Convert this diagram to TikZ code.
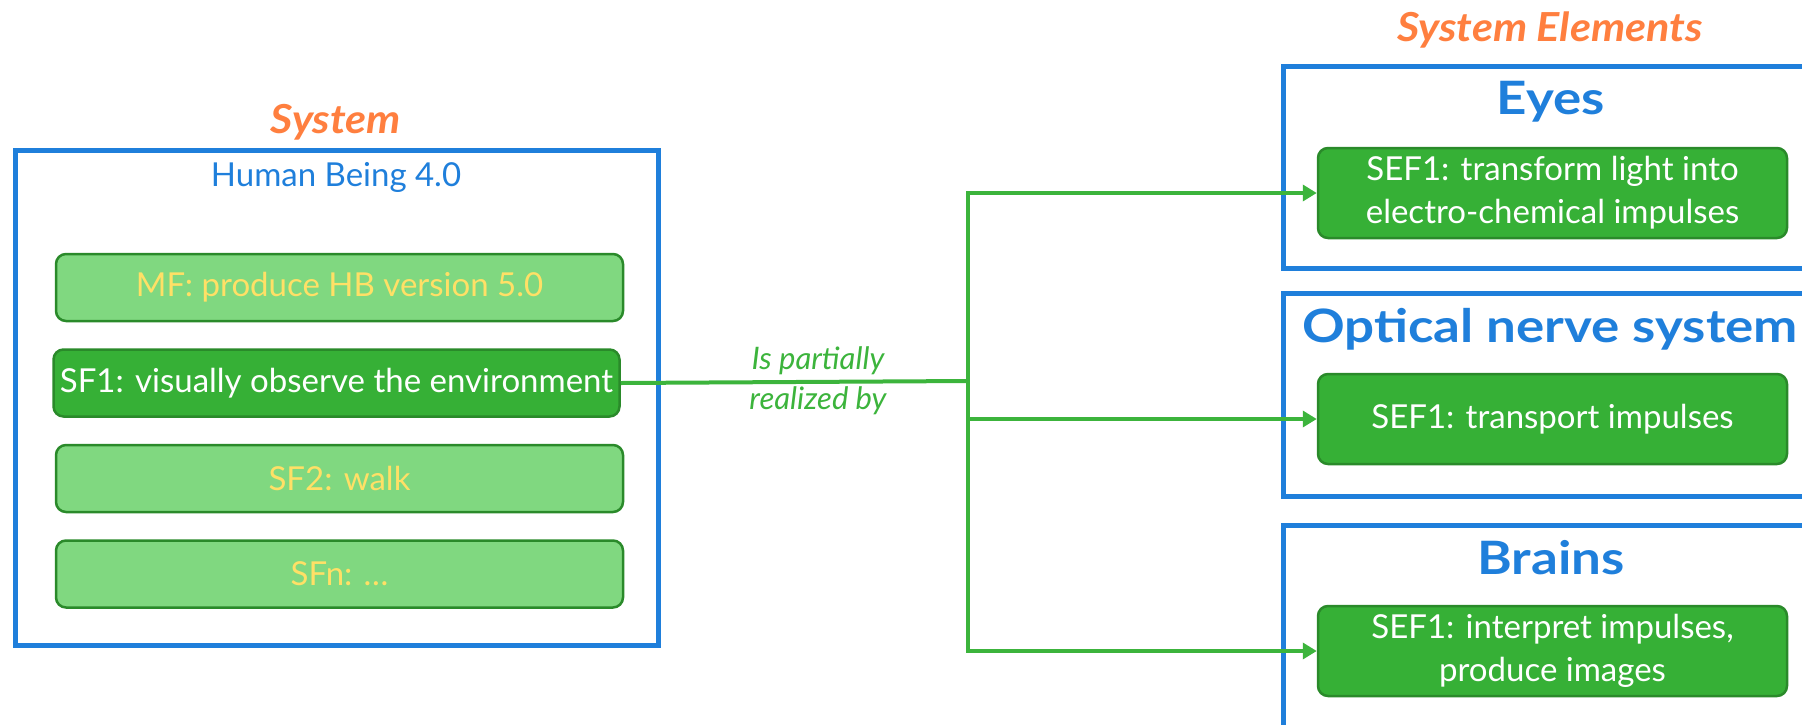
\documentclass[tikz,border=0pt]{standalone}
\usepackage{fontspec}
\setmainfont{Lato}
\newfontfamily\widelato[FakeStretch=1.15]{Lato}
\newfontfamily\headlato[FakeStretch=1.08]{Lato}
\usetikzlibrary{positioning,arrows.meta}

\definecolor{sysblue}{HTML}{1F7FDB}
\definecolor{sysorange}{HTML}{FF7F3F}
\definecolor{linkgreen}{HTML}{3CB43C}
\definecolor{darkfill}{HTML}{36B036}
\definecolor{darkedge}{HTML}{2A8A2A}
\definecolor{lightfill}{HTML}{80D880}
\definecolor{funcyellow}{HTML}{FFE066}

\tikzset{
  blueframe/.style={rectangle, draw=sysblue, line width=5pt, inner sep=0pt},
  headline/.style={anchor=base, text=sysorange, font=\fontsize{40}{48}\headlato\bfseries\itshape},
  elemname/.style={anchor=base, text=sysblue, font=\fontsize{46}{54}\widelato\bfseries},
  func/.style={rectangle, rounded corners=10pt, draw=darkedge, line width=2.5pt, align=center,
    font=\fontsize{33}{43}\selectfont},
  mainfunc/.style={func, fill=lightfill, text=funcyellow, minimum width=567pt, minimum height=67pt},
  subfunc/.style={func, fill=darkfill, text=white},
  elemfunc/.style={subfunc, minimum width=469pt, minimum height=90pt},
  link/.style={draw=linkgreen, line width=4pt},
}

\begin{document}
\begin{tikzpicture}[x=1pt, y=-1pt]
    \useasboundingbox (0,0) rectangle (1802,724);
    \clip (0,0) rectangle (1802,724);

        % Frames
    \node (system) [blueframe, minimum width=643pt, minimum height=495pt] at (336.5,397.5) {};
    \node (eyes) [blueframe, minimum width=547pt, minimum height=202pt] at (1556.5,167) {};
    \node (optic) [blueframe, minimum width=547pt, minimum height=203pt] at (1556.5,394.5) {};
    \node (brains) [blueframe, minimum width=547pt, minimum height=235pt] at (1556.5,642.5) {};

        % Titles
    \node (systitle) [headline] at (336,133) {System};
    \node (elemtitle) [headline] at (1550,41) {System Elements};
    \node (hbname) [anchor=base, text=sysblue, font=\fontsize{33}{40}\selectfont] at (336,186) {Human Being 4.0};
    \node (eyesname) [elemname] at (1551,114) {Eyes};
    \node (opticname) [elemname] at (1550,342) {Optical nerve system};
    \node (brainsname) [elemname] at (1551,574) {Brains};

        % Functions
    \node (mf) [mainfunc] at (339.5,287.5) {MF: produce HB version 5.0};
    \node (sf1) [subfunc, minimum width=566pt, minimum height=67pt, below=26pt of mf, xshift=-3pt] {SF1: visually observe the environment};
    \node (sf2) [mainfunc, below=26pt of sf1, xshift=3pt] {SF2: walk};
    \node (sfn) [mainfunc, below=26pt of sf2] {SFn: \dots};

    \node (eyesf) [elemfunc] at (1552.5,193) {SEF1: transform light into\\electro-chemical impulses};
    \node (opticf) [elemfunc] at (1552.5,419) {SEF1: transport impulses};
    \node (brainsf) [elemfunc] at (1552.5,651) {SEF1: interpret impulses,\\produce images};

        % Arrows
    \coordinate (split) at (968,381);
    \draw [link] (sf1.east) -- (split);
    \draw [link, -{Triangle[length=14pt, width=16pt]}] (split) |- (eyesf.west);
    \draw [link, -{Triangle[length=14pt, width=16pt]}] (split) |- (opticf.west);
    \draw [link, -{Triangle[length=14pt, width=16pt]}] (split) |- (brainsf.west);
    \node (linklabel) [align=center, text=linkgreen, font=\fontsize{31}{40}\selectfont\itshape] at (818,381) {Is partially\\realized by};

\end{tikzpicture}
\end{document}
